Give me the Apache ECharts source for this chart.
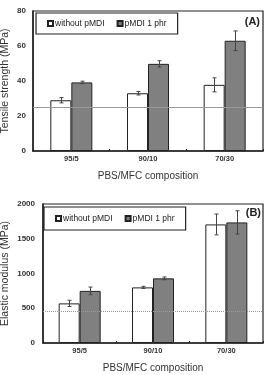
<!DOCTYPE html>
<html>
<head>
<meta charset="utf-8">
<script src="https://cdn.jsdelivr.net/npm/echarts@6/dist/echarts.min.js"></script>
<style>
html, body { margin: 0; padding: 0; background: #fff; }
#main { width: 269px; height: 375px; }
</style>
</head>
<body>
<div id="main"></div>
<script>
var categories = ['95/5', '90/10', '70/30'];
var seriesNames = ['without pMDI', 'pMDI 1 phr'];

// (A) tensile strength, MPa
var tensileWithout = [29, 33, 37.8];
var tensileWithoutErr = [1.5, 1, 4];
var tensileWith = [39.2, 49.8, 63];
var tensileWithErr = [0.7, 1.8, 5.6];
var tensileRef = 25;

// (B) elastic modulus, MPa
var modulusWithout = [570, 800, 1706];
var modulusWithoutErr = [45, 15, 150];
var modulusWith = [750, 930, 1735];
var modulusWithErr = [55, 20, 168];
var modulusRef = 462;

var BAR_W = 21;
var font = 'Liberation Sans, Arial, sans-serif';

function errData(vals, errs) {
    var out = [];
    for (var i = 0; i < vals.length; i++) {
        out.push([i, vals[i] - errs[i], vals[i] + errs[i]]);
    }
    return out;
}

function errSeries(name, data, xi, offset) {
    return {
        type: 'custom',
        name: name,
        xAxisIndex: xi,
        yAxisIndex: xi,
        z: 5,
        silent: true,
        data: data,
        renderItem: function (params, api) {
            var lo = api.coord([api.value(0), api.value(1)]);
            var hi = api.coord([api.value(0), api.value(2)]);
            var x = Math.round(lo[0] + offset) + 0.5;
            var c = 2;
            var st = { stroke: '#444', lineWidth: 1 };
            return {
                type: 'group',
                children: [
                    { type: 'line', shape: { x1: x, y1: lo[1], x2: x, y2: hi[1] }, style: st },
                    { type: 'line', shape: { x1: x - c, y1: lo[1], x2: x + c, y2: lo[1] }, style: st },
                    { type: 'line', shape: { x1: x - c, y1: hi[1], x2: x + c, y2: hi[1] }, style: st }
                ]
            };
        }
    };
}

function barSeries(name, data, xi, color, ref, refType) {
    var s = {
        type: 'bar',
        name: name,
        xAxisIndex: xi,
        yAxisIndex: xi,
        data: data,
        barWidth: BAR_W,
        barGap: '0%',
        itemStyle: { color: color, borderColor: '#222', borderWidth: 1 }
    };
    if (ref != null) {
        s.markLine = {
            silent: true,
            symbol: 'none',
            label: { show: false },
            lineStyle: { color: '#999', width: 1, type: refType },
            data: [{ yAxis: ref }]
        };
    }
    return s;
}

function xAxisOpt(gi) {
    return {
        type: 'category',
        gridIndex: gi,
        data: categories,
        name: 'PBS/MFC composition',
        nameLocation: 'middle',
        nameGap: 20,
        nameMoveOverlap: false,
        nameTextStyle: { fontFamily: font, fontSize: 10, color: '#333' },
        axisLine: { lineStyle: { color: '#222', width: 1.5 } },
        axisTick: { show: true, inside: true, length: 2, lineStyle: { color: '#222' } },
        axisLabel: { fontFamily: font, fontSize: 7.5, fontWeight: 'bold', color: '#333', margin: 4 }
    };
}

function yAxisOpt(gi, name, max, interval, gap, margin) {
    return {
        type: 'value',
        gridIndex: gi,
        min: 0,
        max: max,
        interval: interval,
        name: name,
        nameLocation: 'middle',
        nameGap: gap,
        nameMoveOverlap: false,
        nameTextStyle: { fontFamily: font, fontSize: 10.5, color: '#333' },
        axisLine: { show: true, lineStyle: { color: '#222', width: 1.5 } },
        axisTick: { show: false },
        splitLine: { show: false },
        axisLabel: {
            fontFamily: font, fontSize: 8, fontWeight: 'bold', color: '#333', margin: margin,
            formatter: function (v) { return String(v); }
        }
    };
}

function legendOpt(left, top, pad) {
    return {
        left: left,
        top: top,
        orient: 'horizontal',
        data: seriesNames,
        icon: 'rect',
        itemWidth: 5,
        itemHeight: 5,
        itemGap: 12,
        padding: pad,
        borderColor: '#222',
        borderWidth: 1.2,
        textStyle: { fontFamily: font, fontSize: 8.5, color: '#222', padding: [0, 0, 0, -3] },
        selectedMode: false
    };
}

var chart = echarts.init(document.getElementById('main'));
chart.setOption({
    animation: false,
    backgroundColor: '#fff',
    grid: [
        { left: 33, right: 6, top: 11, height: 140, show: true, borderColor: '#222', borderWidth: 1.2,
          containLabel: false, outerBoundsMode: 'none' },
        { left: 43, right: 6, top: 204, height: 139, show: true, borderColor: '#222', borderWidth: 1.2,
          containLabel: false, outerBoundsMode: 'none' }
    ],
    legend: [legendOpt(36, 13, [6, 11, 6, 11]), legendOpt(44, 207, [7, 11, 7, 11])],
    title: [
        { text: '(A)', right: 9, top: 16, padding: 0, textStyle: { fontFamily: font, fontSize: 11, fontWeight: 'bold', color: '#222' } },
        { text: '(B)', right: 8, top: 207, padding: 0, textStyle: { fontFamily: font, fontSize: 11, fontWeight: 'bold', color: '#222' } }
    ],
    xAxis: [xAxisOpt(0), xAxisOpt(1)],
    yAxis: [
        yAxisOpt(0, 'Tensile strength (MPa)', 80, 20, 22, 7),
        yAxisOpt(1, 'Elastic modulus (MPa)', 2000, 500, 32, 8)
    ],
    series: [
        barSeries(seriesNames[0], tensileWithout, 0, '#ffffff', tensileRef, 'solid'),
        barSeries(seriesNames[1], tensileWith, 0, '#808080'),
        errSeries(seriesNames[0], errData(tensileWithout, tensileWithoutErr), 0, -BAR_W / 2),
        errSeries(seriesNames[1], errData(tensileWith, tensileWithErr), 0, BAR_W / 2),
        barSeries(seriesNames[0], modulusWithout, 1, '#ffffff', modulusRef, 'dotted'),
        barSeries(seriesNames[1], modulusWith, 1, '#808080'),
        errSeries(seriesNames[0], errData(modulusWithout, modulusWithoutErr), 1, -BAR_W / 2),
        errSeries(seriesNames[1], errData(modulusWith, modulusWithErr), 1, BAR_W / 2)
    ]
});
</script>
</body>
</html>
